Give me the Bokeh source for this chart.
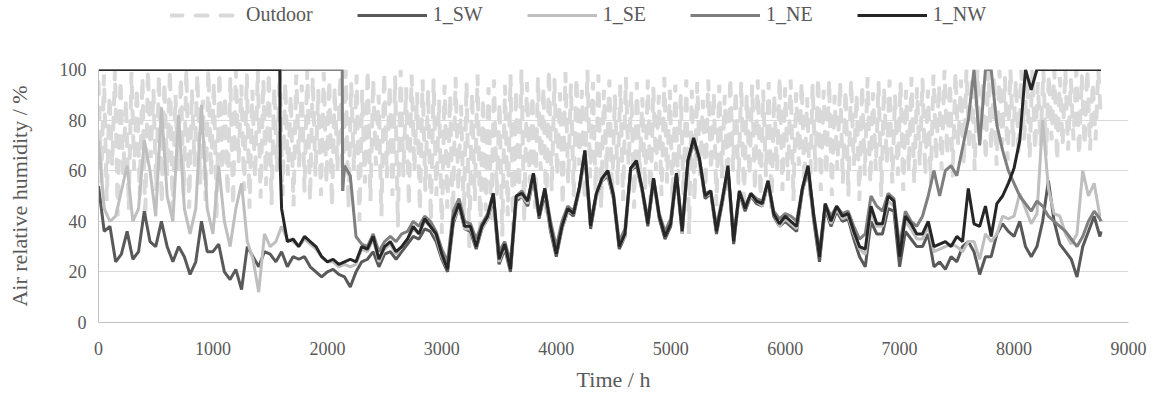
from bokeh.plotting import figure
from bokeh.models import Range1d, FixedTicker, Legend, LegendItem
from bokeh.layouts import column
from bokeh.embed import file_html
from bokeh.resources import INLINE

# ---------------- data ----------------
hours = list(range(0, 8760, 50)) + [8760]          # 177 time stamps for the indoor series
hours_out = list(range(0, 8761, 24))               # 366 daily stamps for outdoor

nw = [100,100,100,100,100,100,100,100,100,100,100,100,100,100,100,100,100,100,100,100,
      100,100,100,100,100,100,100,100,100,100,100,100,45,32,33,30,34,32,30,26,
      24,25,23,24,25,24,30,29,34,25,30,32,28,30,33,38,35,41,38,35,
      27,21,41,47,38,38,30,38,42,51,25,31,21,50,51,48,59,42,53,38,
      27,38,45,43,53,68,38,51,57,60,50,30,35,61,64,53,39,57,42,34,
      39,59,36,64,73,65,50,52,36,48,62,32,52,45,51,48,47,56,43,39,
      42,40,38,53,62,42,26,47,40,46,42,43,36,30,29,46,39,39,50,48,
      26,42,39,35,35,40,30,31,32,30,34,32,53,39,38,46,34,47,50,55,
      61,72,100,92,100,100,100,100,100,100,100,100,100,100,100,100,100]
nw_step = [(1585, 100), (1588, 62)]

ne = [100,100,100,100,100,100,100,100,100,100,100,100,100,100,100,100,100,100,100,100,
      100,100,100,100,100,100,100,100,100,100,100,100,100,100,100,100,100,100,100,100,
      100,100,100,62,58,34,31,30,35,28,32,34,32,35,36,40,38,42,40,36,
      29,24,44,49,40,39,33,39,43,51,28,32,24,50,52,48,59,43,53,40,
      30,40,46,44,53,68,40,51,57,60,51,32,37,61,63,53,41,57,43,36,
      41,59,38,64,72,65,51,52,38,49,61,34,52,46,51,49,48,56,44,41,
      43,42,40,53,61,43,28,47,42,46,43,44,38,33,35,50,46,44,51,49,
      30,44,40,38,42,50,60,50,60,62,58,69,80,100,70,100,100,78,68,60,
      55,50,47,44,48,46,42,40,38,36,33,30,34,40,44,41,40]
ne_step = [(2130, 100), (2133, 52)]

sw = [54,36,38,24,27,36,25,28,44,32,30,40,30,24,30,26,19,24,40,28,
      28,31,20,17,21,13,30,26,22,28,27,24,28,22,26,25,26,22,20,18,
      20,21,19,18,14,20,24,25,28,22,27,28,25,28,31,34,33,37,36,32,
      25,20,39,46,37,36,29,37,41,49,23,29,20,48,50,46,57,41,51,36,
      26,37,44,42,52,66,37,50,56,58,49,29,34,60,62,52,38,56,41,33,
      38,58,35,63,71,64,49,51,35,47,60,31,51,44,50,47,46,55,42,38,
      40,38,36,52,60,40,24,45,38,44,40,41,33,26,22,40,35,35,45,44,
      22,36,33,30,30,35,22,24,21,26,24,30,32,28,19,26,26,35,39,36,
      34,40,30,26,30,40,56,40,31,28,25,18,30,36,42,34,36]

se = [72,45,40,42,52,62,40,45,72,60,42,85,50,40,82,45,35,45,86,45,
      35,62,40,30,45,55,32,25,12,35,30,32,38,33,32,30,33,31,29,26,
      24,24,22,23,22,23,29,28,33,24,29,31,27,30,33,37,35,40,38,34,
      26,21,40,46,37,37,30,37,41,50,24,30,21,49,50,47,58,42,52,37,
      27,37,44,43,52,67,38,50,56,59,49,30,34,60,63,52,39,56,42,34,
      39,58,35,63,72,64,50,51,36,47,61,32,51,45,50,48,46,55,43,38,
      41,39,37,52,61,41,26,46,39,45,41,42,35,29,27,44,38,38,48,46,
      28,40,37,33,33,38,28,29,30,31,30,28,32,32,25,35,32,35,42,41,
      42,51,45,39,43,80,53,43,42,35,31,35,60,50,55,42,42]

outdoor = [95,55,98,48,90,62,100,42,96,58,88,45,99,60,93,50,97,40,100,65,92,52,98,47,95,58,100,44,90,60,
           97,50,100,45,92,62,98,55,88,48,100,58,95,42,99,60,90,50,97,46,100,63,94,52,98,45,92,57,100,49,
           96,54,99,47,93,60,100,50,95,58,90,46,98,62,94,52,100,48,97,58,92,50,99,55,96,46,93,60,98,52,
           100,45,95,60,98,40,92,55,100,48,96,62,90,42,99,57,94,50,97,38,100,58,93,46,98,60,91,44,96,52,
           92,40,96,50,88,35,94,45,90,38,97,52,86,42,95,30,91,48,98,36,89,44,93,40,96,50,87,34,94,42,
           98,32,92,48,100,40,95,55,90,45,97,60,93,42,100,52,96,58,91,46,99,55,94,50,97,62,92,48,100,57,
           95,52,98,45,92,60,96,50,90,55,94,48,97,62,91,45,95,58,89,52,96,47,93,60,90,50,97,55,92,48,
           94,56,90,50,96,35,92,48,95,58,88,53,96,60,91,46,94,57,90,52,97,60,92,55,95,48,90,58,94,52,
           96,50,92,58,95,45,90,60,97,52,93,56,96,48,91,62,95,55,89,50,94,60,97,52,92,58,96,50,90,60,
           95,55,92,50,96,62,90,48,94,58,97,55,91,60,95,50,93,63,96,55,90,58,95,52,92,60,97,55,93,62,
           96,58,92,55,98,64,94,60,100,66,95,58,99,70,96,62,100,68,97,60,100,72,95,64,100,68,98,62,100,70,
           97,64,100,70,96,66,100,72,98,65,100,68,95,70,100,66,98,72,100,64,97,70,100,68,96,72,100,66,98,70,
           100,68,95,72,100,80]

x_ticks = [0, 1000, 2000, 3000, 4000, 5000, 6000, 7000, 8000, 9000]
y_ticks = [0, 20, 40, 60, 80, 100]
labels = ["Outdoor", "1_SW", "1_SE", "1_NE", "1_NW"]


def merge(vals, extra=()):
    pts = sorted(list(zip(hours, vals)) + list(extra))
    return [a for a, _ in pts], [b for _, b in pts]


FONT = "Liberation Serif"
TXT = "#595959"
W = 1153
LEG_H = 32

styles = [dict(line_color="#d9d9d9", line_width=4, line_dash="12 13", line_cap="round"),
          dict(line_color="#595959", line_width=3),
          dict(line_color="#bfbfbf", line_width=3),
          dict(line_color="#7f7f7f", line_width=3),
          dict(line_color="#262626", line_width=3)]

# ---------------- main chart ----------------
p = figure(width=W, height=395 - LEG_H, output_backend="svg", toolbar_location=None,
           x_range=Range1d(0, 9000), y_range=Range1d(0, 100),
           min_border_left=98, min_border_right=25, min_border_top=69 - LEG_H,
           min_border_bottom=73)
p.outline_line_color = None

p.line(hours_out, outdoor, **styles[0])
for vals, extra, st in [(sw, (), styles[1]), (se, (), styles[2]),
                        (ne, ne_step, styles[3]), (nw, nw_step, styles[4])]:
    x, y = merge(vals, extra)
    p.line(x, y, **st)

p.xgrid.visible = False
p.ygrid.grid_line_color = "#d9d9d9"
p.ygrid.grid_line_width = 1
p.ygrid.ticker = FixedTicker(ticks=y_ticks)

for ax in (p.xaxis[0], p.yaxis[0]):
    ax.axis_line_color = "#bfbfbf"
    ax.axis_line_width = 1
    ax.major_tick_line_color = None
    ax.minor_tick_line_color = None
    ax.major_label_text_font = FONT
    ax.major_label_text_font_size = "18px"
    ax.major_label_text_color = TXT
    ax.axis_label_text_font = FONT
    ax.axis_label_text_font_size = "22px"
    ax.axis_label_text_font_style = "normal"
    ax.axis_label_text_color = TXT

p.xaxis.ticker = FixedTicker(ticks=x_ticks)
p.yaxis.ticker = FixedTicker(ticks=y_ticks)
p.xaxis.axis_label = "Time / h"
p.yaxis.axis_label = "Air relative humidity / %"
p.xaxis.major_label_standoff = 13
p.xaxis.axis_label_standoff = 9
p.yaxis.major_label_standoff = 6
p.yaxis.axis_label_standoff = 25

# ---------------- legend strip on top ----------------
lf = figure(width=W, height=LEG_H, output_backend="svg", toolbar_location=None,
            x_axis_type=None, y_axis_type=None, x_range=Range1d(0, 1), y_range=Range1d(0, 1),
            min_border=0)
lf.outline_line_color = None
lf.grid.visible = False
# off-range placeholders, only so the legend can draw each series' line style
rs = [lf.line([-5, -4], [-5, -4], **st) for st in styles]
leg = Legend(items=[LegendItem(label=l, renderers=[r]) for l, r in zip(labels, rs)],
             orientation="horizontal", location=(72, 6),
             glyph_width=70, glyph_height=20, label_height=20, label_standoff=6,
             spacing=44, padding=0, margin=0,
             background_fill_alpha=0, border_line_color=None,
             label_text_font=FONT, label_text_font_size="20px", label_text_color=TXT)
lf.add_layout(leg, "center")

open("out.html", "w").write(file_html(column(lf, p, spacing=0), INLINE))
